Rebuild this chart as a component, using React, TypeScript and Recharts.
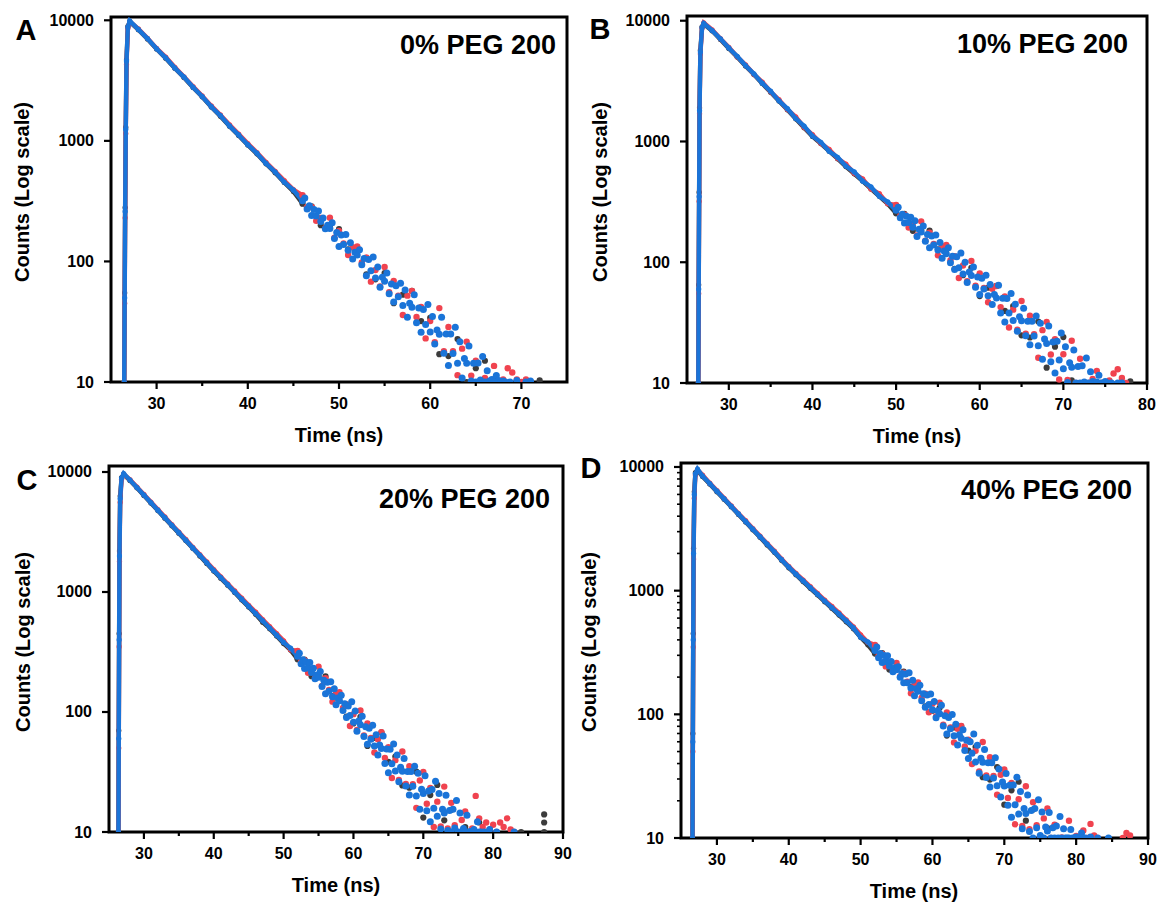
import React from 'react';
import { ScatterChart, Scatter, XAxis, YAxis, ReferenceArea } from 'recharts';

const FONT = '"Liberation Sans", Arial, Helvetica, sans-serif';
const BLACK = '#3c3c3c';
const RED = '#f0434f';
const BLUE = '#1a74d8';

// ================= Panel A: 0% PEG 200 =================
// rise + clean decay (connected trace)
const traceTimeA = [26.45, 26.5, 26.55, 26.62, 26.7, 26.85, 27.05,
  28, 29, 30, 31, 32, 33, 34, 35, 36, 37, 38, 39, 40, 41, 42, 43, 44, 45, 46];
const blackTraceA = [10, 55, 280, 1300, 4700, 8900, 9700,
  8350, 7000, 5780, 4850, 4000, 3360, 2770, 2320, 1910, 1600, 1320, 1110, 925, 780, 645, 545, 452, 380, 301];
const redTraceA = [10, 45, 230, 1150, 4300, 8600, 9800,
  8500, 7100, 5850, 4950, 4080, 3400, 2820, 2360, 1950, 1640, 1360, 1140, 950, 800, 665, 560, 468, 395, 354];
const blueTraceA = [10, 50, 260, 1250, 4600, 8800, 9900,
  8400, 7050, 5800, 4880, 4020, 3380, 2780, 2330, 1920, 1620, 1330, 1120, 930, 790, 650, 552, 455, 390, 319];
// noisy tail (scattered points)
const blackTailTimeA = [46, 47, 48, 49, 50, 51, 52, 53, 54, 55, 56, 57, 58, 59, 60, 61, 62, 63, 64, 65, 66, 67, 72];
const blackTailA = [301, 286, 200, 195, 185, 126, 122, 78, 71, 80, 45, 53, 57, 32, 34, 17, 16.4, 22.7, 10, 13, 15, 10.5, 10.3];
const redTailTimeA = [46, 46.5, 47, 47.5, 48, 48.5, 49, 49.5, 50, 50.5,
  51, 51.5, 52, 52.5, 53, 53.5, 54, 54.5, 55, 55.5,
  56, 56.5, 57, 57.5, 58, 58.5, 59, 59.5, 60, 60.5,
  61, 61.5, 62, 62.5, 63, 63.5, 64, 64.5, 65, 65.5,
  66, 66.5, 67, 67.5, 68, 68.5, 69, 69.5, 70, 70.5];
const redTailA = [354, 282, 283, 217, 229, 189, 230, 157, 179, 141,
  113, 131, 133, 98, 108, 68, 85, 62, 90, 55.5,
  69, 52, 36, 52, 57, 34.6, 42, 23, 32, 21.4,
  41, 18, 28.6, 18, 11.4, 18.9, 21.6, 11.3, 15, 10,
  10.8, 10, 13.6, 10, 10.5, 13, 12, 10.5, 10, 10.5];
const blueTailTimeA = [46, 46.25, 46.5, 46.75, 47, 47.25, 47.5, 47.75, 48, 48.25, 48.5, 48.75,
  49, 49.25, 49.5, 49.75, 50, 50.25, 50.5, 50.75, 51, 51.25, 51.5, 51.75,
  52, 52.25, 52.5, 52.75, 53, 53.25, 53.5, 53.75, 54, 54.25, 54.5, 54.75,
  55, 55.25, 55.5, 55.75, 56, 56.25, 56.5, 56.75, 57, 57.25, 57.5, 57.75,
  58, 58.25, 58.5, 58.75, 59, 59.25, 59.5, 59.75, 60, 60.25, 60.5, 60.75,
  61, 61.25, 61.5, 61.75, 62, 62.25, 62.5, 62.75, 63, 63.25, 63.5, 63.75,
  64, 64.25, 64.5, 64.75, 65, 65.25, 65.5, 65.75, 66, 66.25, 66.5, 66.75,
  67, 67.25, 67.5, 67.75, 68, 68.25, 68.5, 68.75,
  69.5, 70.5, 71];
const blueTailA = [319, 336, 272, 289, 240, 270, 238, 262, 214, 229, 187, 200,
  188, 209, 155, 174, 133, 166, 138, 167, 124, 143, 105, 119,
  113, 125, 94, 106, 76, 104, 83.5, 109, 73, 90, 61, 74,
  68.5, 80, 54, 65, 46, 63, 51, 66, 43, 58, 34.4, 45,
  41.7, 53, 31, 41, 25.8, 40, 30, 44, 26, 35, 20.7, 27,
  24.9, 34.5, 17.3, 25, 13.7, 25, 17.2, 28.4, 14.3, 21.6, 10.8, 15.7,
  14.3, 19.9, 10.2, 14.3, 10, 14.4, 10.4, 16.3, 10, 12.4, 10.2, 10.5,
  10, 11.3, 10.3, 10, 10.2, 10, null, 10,
  10.3, 10, 10.2];

// ================= Panel B: 10% PEG 200 =================
const traceTimeB = [26.35, 26.4, 26.45, 26.5, 26.6, 26.8, 27.0,
  28, 29, 30, 31, 32, 33, 34, 35, 36, 37, 38, 39, 40, 41, 42, 43, 44, 45, 46, 47, 48, 49, 50];
const blackTraceB = [10, 65, 380, 1900, 5700, 8900, 9400,
  8250, 7000, 5900, 5000, 4220, 3580, 3020, 2560, 2160, 1830, 1540, 1300, 1100, 960, 830, 720, 620, 540, 470, 405, 352, 305, 254];
const redTraceB = [10, 55, 320, 1700, 5300, 8700, 9600,
  8420, 7100, 6020, 5030, 4320, 3600, 3100, 2580, 2220, 1840, 1600, 1310, 1140, 965, 860, 725, 650, 545, 490, 405, 370, 305, 298];
const blueTraceB = [10, 60, 350, 1800, 5500, 8800, 9500,
  8300, 7080, 5950, 5080, 4250, 3630, 3040, 2610, 2170, 1870, 1550, 1340, 1110, 985, 830, 740, 625, 560, 470, 420, 352, 316, 269];
const blackTailTimeB = [50, 51, 52, 53, 54, 55, 56, 57, 58, 59, 60, 61, 62, 63, 64, 65, 66, 67, 68, 69, 70, 71, 78];
const blackTailB = [254, 251, 182, 185, 183, 128, 126, 88, 78, 90, 52.5, 61.5, 63.6, 39.5, 43.4, 24.8, 23.8, 32.3, 13.4, 20, 24, 10.5, 10.3];
const redTailTimeB = [50, 50.5, 51, 51.5, 52, 52.5, 53, 53.5, 54, 54.5,
  55, 55.5, 56, 56.5, 57, 57.5, 58, 58.5, 59, 59.5,
  60, 60.5, 61, 61.5, 62, 62.5, 63, 63.5, 64, 64.5,
  65, 65.5, 66, 66.5, 67, 67.5, 68, 68.5, 69, 69.5,
  70, 70.5, 71, 71.5, 72, 72.5, 73, 73.5, 74, 74.5,
  75, 75.5, 76, 76.5, 77, 77.5];
const redTailB = [298, 242, 248, 194, 209, 167, 218, 151, 176, 142,
  114, 136, 139, 104, 112, 74, 94, 69.5, 102.5, 63.8,
  80.7, 61.3, 46.6, 60.2, 63.6, 42.5, 52, 28.8, 40.5, 27.6,
  47.8, 25.6, 36, 25.4, 16.2, 27.4, 32.1, 17.2, 23, 10.7,
  17.3, 10.6, 22.4, 10, 15.9, 10.1, 10, 10.8, 12.6, 10,
  10, 10.5, 12, 13, 11, 10];
const blueTailTimeB = [50, 50.25, 50.5, 50.75, 51, 51.25, 51.5, 51.75, 52, 52.25, 52.5, 52.75,
  53, 53.25, 53.5, 53.75, 54, 54.25, 54.5, 54.75, 55, 55.25, 55.5, 55.75,
  56, 56.25, 56.5, 56.75, 57, 57.25, 57.5, 57.75, 58, 58.25, 58.5, 58.75,
  59, 59.25, 59.5, 59.75, 60, 60.25, 60.5, 60.75, 61, 61.25, 61.5, 61.75,
  62, 62.25, 62.5, 62.75, 63, 63.25, 63.5, 63.75, 64, 64.25, 64.5, 64.75,
  65, 65.25, 65.5, 65.75, 66, 66.25, 66.5, 66.75, 67, 67.25, 67.5, 67.75,
  68, 68.25, 68.5, 68.75, 69, 69.25, 69.5, 69.75, 70, 70.25, 70.5, 70.75,
  71, 71.25, 71.5, 71.75, 72, 72.25, 72.5, 72.75, 73, 73.25, 73.5, 73.75,
  74, 74.25, 74.5, 74.75, 75, 75.25, 75.5, 75.75,
  76.5, 77];
const blueTailB = [269, 286, 233, 250, 211, 240, 213, 236, 195, 221, 163, 188,
  178, 200, 149, 170, 132, 165, 139, 168, 126, 146, 108, 124,
  117.5, 132, 99, 112, 87, 111, 90, 119, 80, 100, 68, 83,
  77.6, 91.5, 62, 75.6, 54, 73.7, 60, 78, 52.7, 65.4, 44.6, 54,
  50.6, 64.4, 38, 50.4, 32, 50, 37.9, 55, 32.9, 44.9, 26.8, 35.3,
  32.7, 41.6, 24.6, 32.5, 20.7, 32.5, 24.5, 35.8, 20.3, 31.2, 15.7, 23.1,
  21.2, 29.6, 15, 21.9, 12.1, 22.2, 15.5, 25.9, 13.1, 20, 10.1, 14.7,
  13.5, 18.8, 10, 13.7, 10, 13.9, 10.2, 16.1, 10, 12.4, 10.3, 10,
  10.2, 11.6, 10, 10, 10.3, 10, null, 10,
  10, 10];

// ================= Panel C: 20% PEG 200 =================
const traceTimeC = [26.35, 26.4, 26.45, 26.5, 26.6, 26.8, 27.1,
  28, 29, 30, 31, 32, 33, 34, 35, 36, 37, 38, 39, 40, 41, 42, 43, 44, 45, 46, 47, 48, 49, 50, 51, 52];
const blackTraceC = [10, 70, 450, 2200, 6300, 9000, 9500,
  8500, 7380, 6380, 5510, 4770, 4120, 3570, 3090, 2680, 2310, 2000, 1730, 1495, 1305, 1140, 990, 860, 750, 652, 560, 495, 430, 372, 328, 275];
const redTraceC = [10, 50, 350, 1800, 5600, 8700, 9600,
  8650, 7500, 6500, 5620, 4860, 4220, 3640, 3160, 2740, 2360, 2050, 1780, 1540, 1340, 1170, 1020, 890, 775, 680, 590, 515, 450, 392, 330, 323];
const blueTraceC = [10, 60, 400, 2000, 6000, 8900, 9700,
  8570, 7430, 6430, 5560, 4810, 4160, 3600, 3120, 2700, 2330, 2020, 1750, 1510, 1320, 1150, 1000, 871, 759, 661, 575, 501, 437, 380, 340, 291];
const blackTailTimeC = [52, 53, 54, 55, 56, 57, 58, 59, 60, 61, 62, 63, 64, 65, 66, 67, 68, 69, 70, 71,
  72, 73, 74, 75, 76, 77, 78, 79, 84, 87.3, 87.3, 87.3];
const blackTailC = [275, 273, 199, 202, 198, 136, 133, 91.7, 80.3, 91.1, 52.2, 60.8, 67.8, 38.5, 42.5, 24.4, 23.4, 31.8, 13.2, 20.3,
  24.7, 12.5, 15.3, 10, 11, 10, 12, 10, 10, 10, 12, 14];
const redTailTimeC = [52, 52.5, 53, 53.5, 54, 54.5, 55, 55.5, 56, 56.5,
  57, 57.5, 58, 58.5, 59, 59.5, 60, 60.5, 61, 61.5,
  62, 62.5, 63, 63.5, 64, 64.5, 65, 65.5, 66, 66.5,
  67, 67.5, 68, 68.5, 69, 69.5, 70, 70.5, 71, 71.5,
  72, 72.5, 73, 73.5, 74, 74.5, 75, 75.5, 76, 76.5,
  77, 77.5, 78, 78.5, 79, 79.5, 80, 80.5, 81, 81.5,
  82, 82.5, 83];
const redTailC = [323, 263, 270, 212, 228, 192, 239, 165, 191, 153,
  122, 144, 146, 108, 116, 76.4, 96, 70.7, 103, 63.9,
  80.4, 60.7, 46, 59.2, 67.8, 41.5, 50.8, 28.2, 39.7, 27.1,
  46.9, 25.1, 35.4, 25, 15.9, 26.9, 31.6, 17.2, 23.3, 11,
  17.9, 11.1, 23.9, 10.7, 17.5, 11.4, 10, 12.6, 14.8, 10,
  10.7, 20, 13, 11, 12, 10.5, 11.5, 10, 12, 11,
  13, 10.5, 10];
const blueTailTimeC = [52, 52.25, 52.5, 52.75, 53, 53.25, 53.5, 53.75, 54, 54.25, 54.5, 54.75,
  55, 55.25, 55.5, 55.75, 56, 56.25, 56.5, 56.75, 57, 57.25, 57.5, 57.75,
  58, 58.25, 58.5, 58.75, 59, 59.25, 59.5, 59.75, 60, 60.25, 60.5, 60.75,
  61, 61.25, 61.5, 61.75, 62, 62.25, 62.5, 62.75, 63, 63.25, 63.5, 63.75,
  64, 64.25, 64.5, 64.75, 65, 65.25, 65.5, 65.75, 66, 66.25, 66.5, 66.75,
  67, 67.25, 67.5, 67.75, 68, 68.25, 68.5, 68.75, 69, 69.25, 69.5, 69.75,
  70, 70.25, 70.5, 70.75, 71, 71.25, 71.5, 71.75, 72, 72.25, 72.5, 72.75,
  73, 73.25, 73.5, 73.75, 74, 74.25, 74.5, 74.75, 75, 75.25, 75.5, 75.75,
  76, 76.25, 76.5, 76.75, 77, 77.25, 77.5, 77.75, 78, 78.25, 78.5, 78.75,
  79.5, 80.5, 83];
const blueTailC = [291, 309, 253, 272, 230, 261, 233, 258, 213, 231, 189, 203,
  195, 218, 163, 184, 142, 177, 149, 179, 134, 156, 115, 131,
  124, 138, 103, 117, 90, 112, 93.5, 122, 82, 102, 69, 84,
  78.3, 92, 62.4, 75.4, 53.8, 73.2, 59.2, 77.4, 52, 64.5, 43.9, 53.1,
  49.7, 63.1, 37.3, 49.2, 31.2, 49, 37, 54.1, 32.2, 43.9, 26.2, 34.6,
  32.1, 40.9, 24.2, 32, 20.3, 31.9, 24.1, 35.3, 20, 30.8, 15.5, 22.7,
  20.9, 29.4, 15, 22, 12.2, 22.6, 15.8, 26.5, 13.5, 20.9, 10.6, 15.5,
  14.4, 20.2, 10.3, 15.1, 10, 15.5, 10.8, 18.3, 10, 14.4, 10, 10.7,
  10, 13.8, 10, 10.1, 10, 10.5, null, 12.2, 10, 10, null, 10,
  10.5, 10, 10];

// ================= Panel D: 40% PEG 200 =================
const traceTimeD = [26.6, 26.65, 26.7, 26.75, 26.85, 27.0, 27.3,
  28, 29, 30, 31, 32, 33, 34, 35, 36, 37, 38, 39, 40, 41, 42, 43, 44, 45, 46, 47, 48, 49, 50, 51, 52];
const blackTraceD = [10, 70, 450, 2200, 6300, 9000, 9400,
  8380, 7280, 6320, 5480, 4760, 4130, 3590, 3110, 2700, 2340, 2040, 1760, 1530, 1345, 1185, 1045, 925, 815, 720, 635, 560, 492, 420, 365, 310];
const redTraceD = [10, 50, 350, 1800, 5600, 8600, 9500,
  8600, 7400, 6450, 5580, 4850, 4200, 3680, 3180, 2760, 2400, 2090, 1800, 1570, 1380, 1220, 1080, 950, 840, 745, 660, 582, 510, 440, 382, 364];
const blueTraceD = [10, 60, 400, 2000, 6000, 8800, 9600,
  8450, 7340, 6370, 5530, 4800, 4170, 3620, 3140, 2730, 2370, 2060, 1780, 1550, 1360, 1200, 1060, 935, 825, 730, 645, 570, 500, 420, 385, 328];
const blackTailTimeD = [52, 53, 54, 55, 56, 57, 58, 59, 60, 61, 62, 63, 64, 65, 66, 67, 68, 69, 70, 71,
  72, 73, 74, 75, 76, 77, 87.5];
const blackTailD = [310, 312, 230, 234, 222, 166, 165, 116, 107, 113, 67.3, 78.4, 80.4, 51, 54.4, 31, 29.7, 37.5, 18.6, 24.3,
  28.5, 13.8, 17, 10, 12, 10, 10.3];
const redTailTimeD = [52, 52.5, 53, 53.5, 54, 54.5, 55, 55.5, 56, 56.5,
  57, 57.5, 58, 58.5, 59, 59.5, 60, 60.5, 61, 61.5,
  62, 62.5, 63, 63.5, 64, 64.5, 65, 65.5, 66, 66.5,
  67, 67.5, 68, 68.5, 69, 69.5, 70, 70.5, 71, 71.5,
  72, 72.5, 73, 73.5, 74, 74.5, 75, 75.5, 76, 76.5,
  77, 77.5, 78, 78.5, 79, 79.5, 80, 80.5, 81, 81.5,
  82, 82.5, 83,
  86.5, 87, 87.5];
const redTailD = [364, 298, 308, 244, 264, 224, 260, 202, 217, 184,
  148, 176, 181, 136, 147, 104, 122, 96, 124, 82.5,
  103.5, 78.4, 59.3, 76.4, 80.4, 55, 62.4, 39.6, 50.8, 34.5,
  59.8, 32, 45, 31.7, 22.4, 32.5, 35.9, 21.1, 27.9, 12.9,
  20.6, 12.5, 26.2, 11.8, 19.5, 12.7, 10, 14.4, 17.3, 10,
  12.8, null, 10.1, null, 13.8, null, 10.4, 10, 11.5, 10,
  13, 10.5, 10,
  10, 11, 10.5];
const blueTailTimeD = [52, 52.25, 52.5, 52.75, 53, 53.25, 53.5, 53.75, 54, 54.25, 54.5, 54.75,
  55, 55.25, 55.5, 55.75, 56, 56.25, 56.5, 56.75, 57, 57.25, 57.5, 57.75,
  58, 58.25, 58.5, 58.75, 59, 59.25, 59.5, 59.75, 60, 60.25, 60.5, 60.75,
  61, 61.25, 61.5, 61.75, 62, 62.25, 62.5, 62.75, 63, 63.25, 63.5, 63.75,
  64, 64.25, 64.5, 64.75, 65, 65.25, 65.5, 65.75, 66, 66.25, 66.5, 66.75,
  67, 67.25, 67.5, 67.75, 68, 68.25, 68.5, 68.75, 69, 69.25, 69.5, 69.75,
  70, 70.25, 70.5, 70.75, 71, 71.25, 71.5, 71.75, 72, 72.25, 72.5, 72.75,
  73, 73.25, 73.5, 73.75, 74, 74.25, 74.5, 74.75, 75, 75.25, 75.5, 75.75,
  76, 76.25, 76.5, 76.75, 77, 77.25, 77.5, 77.75, 78, 78.25, 78.5, 78.75,
  79, 79.25, 79.5, 79.75, 80, 80.25, 80.5, 80.75, 81, 81.25,
  82, 83, 84.5];
const blueTailD = [328, 350, 287, 310, 262, 299, 268, 298, 246, 268, 221, 238,
  229, 243, 199, 214, 180, 212, 180, 217, 163, 189, 141, 161,
  153.5, 172, 129, 147, 114, 143, 120, 146, 109, 127, 94, 107,
  101, 118.6, 80.5, 97.3, 69.4, 94.4, 76.4, 99.8, 67, 83.2, 56.6, 68.5,
  64, 75.2, 51.1, 61.8, 44, 59.9, 48.5, 69.4, 41.2, 56.2, 33.4, 44.1,
  40.9, 52, 30.8, 40.6, 25.8, 40.5, 30.5, 44.6, 26.5, 36.2, 21.5, 28.4,
  26.3, 33.3, 18.4, 26.7, 14.7, 26.8, 18.6, 31, 15.6, 23.8, 11.9, 17.3,
  15.8, 22.3, 11.3, 16.7, 10, 17.3, 12.1, 20.4, 10.5, 16.2, 10, 12.3,
  11.4, 16.1, 10, 12.1, 10, 12.5, 10, 14.9, 10, 11.9, 10, 10,
  10, 11.7, 10, 10, 10.2, 10, null, 11, 10, 10,
  10.2, 10, 10];

// ================= axes =================
const xTicksA = [30, 35, 40, 45, 50, 55, 60, 65, 70];
const xTicksB = [30, 35, 40, 45, 50, 55, 60, 65, 70, 75, 80];
const xTicksCD = [30, 35, 40, 45, 50, 55, 60, 65, 70, 75, 80, 85, 90];
const yTicks = [10, 100, 1000, 10000];
const yTicksD = [10, 20, 30, 40, 50, 60, 70, 80, 90, 100, 200, 300, 400, 500, 600, 700, 800, 900,
  1000, 2000, 3000, 4000, 5000, 6000, 7000, 8000, 9000, 10000];
const decades = [10, 100, 1000, 10000];

const toPoints = (times: number[], counts: (number | null)[]) =>
  times.flatMap((t, i) => (counts[i] == null ? [] : [{ t, c: counts[i] as number }]));

const XTick = (props: any) => {
  const { x, y, payload } = props;
  const major = payload.value % 10 === 0;
  return (
    <g>
      <line x1={x} x2={x} y1={y} y2={y + (major ? 7 : 4)} stroke="#000" strokeWidth={2.2} />
      {major && (
        <text x={x} y={y + 21} textAnchor="middle" dominantBaseline="central"
          fontSize={16} fontWeight="bold" fontFamily={FONT} fill="#000">{payload.value}</text>
      )}
    </g>
  );
};

const YTick = (props: any) => {
  const { x, y, payload } = props;
  const major = decades.includes(payload.value);
  return (
    <g>
      <line x1={x} x2={x - (major ? 7 : 4)} y1={y} y2={y} stroke="#000" strokeWidth={major ? 2.2 : 1.6} />
      {major && (
        <text x={x - 17} y={y} textAnchor="end" dominantBaseline="central"
          fontSize={16} fontWeight="bold" fontFamily={FONT} fill="#000">{payload.value}</text>
      )}
    </g>
  );
};

const dot = (color: string, r: number) => (p: any) => <circle cx={p.cx} cy={p.cy} r={r} fill={color} />;

const panels = [
  { key: 'A', left: 0, top: 0, w: 580, h: 450, margin: { top: 17, right: 13, bottom: 38, left: 71 },
    xMax: 75, xTicks: xTicksA, yTop: 10650, yt: yTicks,
    traceT: traceTimeA, traces: [blackTraceA, redTraceA, blueTraceA],
    tails: [[blackTailTimeA, blackTailA], [redTailTimeA, redTailA], [blueTailTimeA, blueTailA]] },
  { key: 'B', left: 580, top: 0, w: 579, h: 450, margin: { top: 16, right: 12, bottom: 37, left: 67 },
    xMax: 80, xTicks: xTicksB, yTop: 10940, yt: yTicks,
    traceT: traceTimeB, traces: [blackTraceB, redTraceB, blueTraceB],
    tails: [[blackTailTimeB, blackTailB], [redTailTimeB, redTailB], [blueTailTimeB, blueTailB]] },
  { key: 'C', left: 0, top: 450, w: 580, h: 454, margin: { top: 16, right: 17, bottom: 42, left: 69 },
    xMax: 90, xTicks: xTicksCD, yTop: 11220, yt: yTicks,
    traceT: traceTimeC, traces: [blackTraceC, redTraceC, blueTraceC],
    tails: [[blackTailTimeC, blackTailC], [redTailTimeC, redTailC], [blueTailTimeC, blueTailC]] },
  { key: 'D', left: 580, top: 450, w: 579, h: 454, margin: { top: 13, right: 11, bottom: 36, left: 61 },
    xMax: 90, xTicks: xTicksCD, yTop: 10770, yt: yTicksD,
    traceT: traceTimeD, traces: [blackTraceD, redTraceD, blueTraceD],
    tails: [[blackTailTimeD, blackTailD], [redTailTimeD, redTailD], [blueTailTimeD, blueTailD]] },
];

const seriesColors = [BLACK, RED, BLUE];
const seriesNames = ['run 1', 'run 2', 'run 3'];
const tailRadius = [3.1, 3.2, 3.5];

const letters = [
  { t: 'A', x: 26, y: 30 }, { t: 'B', x: 600, y: 29 }, { t: 'C', x: 27, y: 480 }, { t: 'D', x: 591, y: 468 },
];
const insets = [
  { t: '0% PEG 200', x: 556, y: 45 }, { t: '10% PEG 200', x: 1128, y: 44 },
  { t: '20% PEG 200', x: 550, y: 499 }, { t: '40% PEG 200', x: 1132, y: 490 },
];
const yTitles = [{ x: 22, y: 192 }, { x: 600, y: 192 }, { x: 23, y: 642 }, { x: 589, y: 642 }];
const xTitles = [{ x: 339, y: 435 }, { x: 917, y: 436 }, { x: 336, y: 885 }, { x: 914, y: 891 }];

export default function App() {
  return (
    <div style={{ position: 'absolute', left: 0, top: 0, width: 1159, height: 904, background: '#fff', overflow: 'hidden' }}>
      {panels.map((p) => (
        <div key={p.key} style={{ position: 'absolute', left: p.left, top: p.top, width: p.w, height: p.h }}>
          <ScatterChart width={p.w} height={p.h} margin={p.margin}>
            <XAxis type="number" dataKey="t" domain={[25, p.xMax]} ticks={p.xTicks} interval={0}
              allowDataOverflow axisLine={false} tickLine={false} tickSize={0} tickMargin={0}
              height={30} tick={<XTick />} />
            <YAxis type="number" dataKey="c" scale="log" domain={[10, p.yTop]} ticks={p.yt} interval={0}
              allowDataOverflow axisLine={false} tickLine={false} tickSize={0} tickMargin={0}
              width={40} tick={<YTick />} />
            {p.traces.map((vals, k) => (
              <Scatter key={'trace' + k} name={seriesNames[k]} data={toPoints(p.traceT, vals)}
                fill={seriesColors[k]} line={{ stroke: seriesColors[k], strokeWidth: 4.4 }}
                shape={dot(seriesColors[k], 2.6)} isAnimationActive={false} />
            ))}
            {p.tails.map(([times, vals], k) => (
              <Scatter key={'tail' + k} name={seriesNames[k] + ' tail'}
                data={toPoints(times as number[], vals as (number | null)[])}
                fill={seriesColors[k]} shape={dot(seriesColors[k], tailRadius[k])} isAnimationActive={false} />
            ))}
            <ReferenceArea x1={25} x2={p.xMax} y1={10} y2={p.yTop} fill="none" fillOpacity={0}
              stroke="#000" strokeWidth={3} ifOverflow="visible" />
          </ScatterChart>
        </div>
      ))}
      <svg width={1159} height={904} style={{ position: 'absolute', left: 0, top: 0, pointerEvents: 'none' }}
        fontFamily={FONT} fontWeight="bold" fill="#000">
        {letters.map((l) => (
          <text key={l.t} x={l.x} y={l.y} fontSize={29} textAnchor="middle" dominantBaseline="central">{l.t}</text>
        ))}
        {insets.map((l) => (
          <text key={l.t} x={l.x} y={l.y} fontSize={27} textAnchor="end" dominantBaseline="central">{l.t}</text>
        ))}
        {yTitles.map((l, i) => (
          <text key={'y' + i} x={l.x} y={l.y} fontSize={20} textAnchor="middle" dominantBaseline="central"
            transform={`rotate(-90 ${l.x} ${l.y})`}>Counts (Log scale)</text>
        ))}
        {xTitles.map((l, i) => (
          <text key={'x' + i} x={l.x} y={l.y} fontSize={20} textAnchor="middle" dominantBaseline="central">Time (ns)</text>
        ))}
      </svg>
    </div>
  );
}
